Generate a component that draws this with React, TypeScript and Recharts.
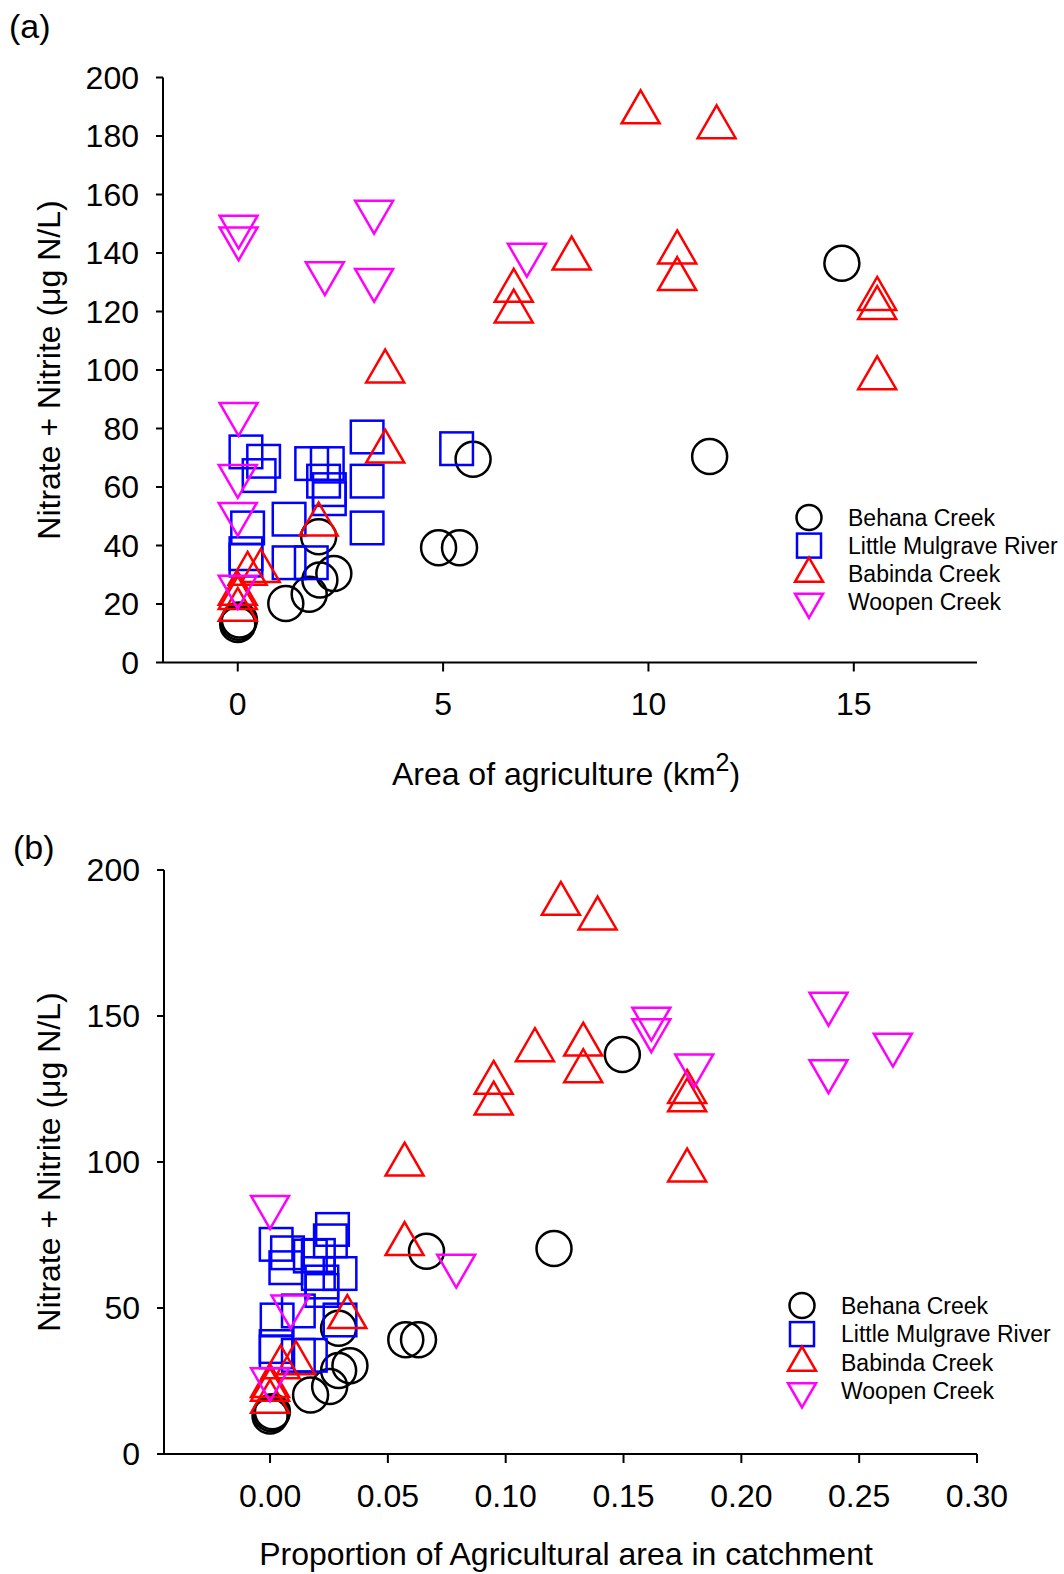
import { ScatterChart, Scatter, XAxis, YAxis, Label, Legend } from 'recharts';

const FONT = 'Arial, "Liberation Sans", sans-serif';

// series: name, colour, marker
const seriesNames = ['Behana Creek', 'Little Mulgrave River', 'Babinda Creek', 'Woopen Creek'];
const seriesColors = ['#000000', '#0000ff', '#ff0000', '#ff00ff'];
const seriesMarkers = ['circle', 'square', 'up', 'down'];

// (a) area of agriculture (km2) vs nitrate + nitrite (ug N/L)
const behanaArea: [number, number][] = [
  [14.71, 136.5], [11.49, 70.4], [5.73, 69.5], [4.89, 39.2], [5.4, 39.2], [1.97, 43.0],
  [2.34, 30.4], [2.0, 28.2], [1.74, 23.3], [1.17, 20.2], [0.0, 13.0], [0.02, 13.8], [0.04, 14.5],
];
const mulgraveArea: [number, number][] = [
  [0.2, 72.0], [0.63, 68.8], [0.52, 63.9], [1.8, 68.0], [2.18, 68.0], [2.09, 62.0],
  [2.23, 59.1], [2.23, 56.0], [3.15, 77.1], [3.15, 62.0], [3.15, 46.0], [1.25, 49.0],
  [0.24, 46.0], [0.2, 37.2], [0.2, 35.0], [1.25, 34.1], [1.79, 34.1], [5.33, 73.1],
];
const babindaArea: [number, number][] = [
  [9.81, 188.1], [11.66, 183.0], [8.13, 138.1], [10.7, 140.2], [10.7, 131.1], [15.57, 124.3],
  [15.57, 121.2], [15.57, 97.2], [6.72, 127.1], [6.72, 120.0], [3.59, 99.5], [3.59, 72.1],
  [1.97, 47.2], [0.56, 31.3], [0.24, 30.3], [0.0, 23.5], [0.0, 22.0], [0.0, 18.0],
];
const woopenArea: [number, number][] = [
  [0.02, 149.0], [0.02, 145.0], [3.32, 154.1], [2.12, 133.1], [3.32, 130.8], [7.04, 139.4],
  [0.02, 85.0], [0.0, 63.8], [0.0, 50.8], [0.0, 25.9],
];

// (b) proportion of agricultural area in catchment vs nitrate + nitrite
const behanaProp: [number, number][] = [
  [0.1495, 136.8], [0.1205, 70.4], [0.0664, 69.4], [0.0576, 39.1], [0.063, 39.1], [0.0291, 43.1],
  [0.0339, 30.2], [0.0291, 28.6], [0.0253, 23.1], [0.0172, 20.2], [0.0, 13.0], [0.0005, 13.8], [0.001, 14.5],
];
const mulgraveProp: [number, number][] = [
  [0.0026, 71.8], [0.0074, 68.9], [0.0067, 63.8], [0.0171, 67.8], [0.0205, 68.0], [0.0205, 61.8],
  [0.022, 58.9], [0.022, 56.0], [0.0265, 76.9], [0.0297, 61.8], [0.0297, 45.9], [0.012, 49.0],
  [0.003, 45.9], [0.0026, 36.8], [0.0026, 35.0], [0.012, 33.8], [0.0171, 33.8], [0.0256, 73.0],
];
const babindaProp: [number, number][] = [
  [0.1234, 188.4], [0.139, 183.4], [0.1124, 138.3], [0.1329, 140.2], [0.1329, 131.1], [0.177, 124.0],
  [0.177, 121.1], [0.177, 97.1], [0.0949, 127.1], [0.0949, 120.0], [0.0571, 99.1], [0.0571, 71.9],
  [0.0328, 46.9], [0.011, 31.1], [0.0045, 29.7], [0.0, 23.3], [0.0, 22.0], [0.0, 17.9],
];
const woopenProp: [number, number][] = [
  [0.1618, 149.1], [0.1618, 145.1], [0.237, 154.2], [0.18, 133.1], [0.237, 131.1], [0.2643, 140.2],
  [0.0, 84.6], [0.079, 64.5], [0.0087, 50.5], [0.0, 25.6],
];

const ticksYA = [0, 20, 40, 60, 80, 100, 120, 140, 160, 180, 200];
const ticksXA = [0, 5, 10, 15];
const ticksYB = [0, 50, 100, 150, 200];
const ticksXB = [0, 0.05, 0.1, 0.15, 0.2, 0.25, 0.3];

const toRows = (pts: [number, number][]) => pts.map(([x, y]) => ({ x, y }));

function Marker({ kind, cx, cy, color, big }: any) {
  const sw = 2.5;
  if (kind === 'circle') {
    const r = big ? 17.5 : 12.5;
    return <circle cx={cx} cy={cy} r={r} fill="none" stroke={color} strokeWidth={sw} />;
  }
  if (kind === 'square') {
    const h = big ? 16.3 : 12;
    return <rect x={cx - h} y={cy - h} width={2 * h} height={2 * h} fill="none" stroke={color} strokeWidth={sw} />;
  }
  const s = big ? 38 : 28;
  const th = (s * Math.sqrt(3)) / 2;
  const pts =
    kind === 'up'
      ? `${cx},${cy - (2 * th) / 3} ${cx + s / 2},${cy + th / 3} ${cx - s / 2},${cy + th / 3}`
      : `${cx},${cy + (2 * th) / 3} ${cx + s / 2},${cy - th / 3} ${cx - s / 2},${cy - th / 3}`;
  return <polygon points={pts} fill="none" stroke={color} strokeWidth={sw} strokeLinejoin="miter" />;
}

function LegendBox({ step }: { step: number }) {
  return (
    <svg width={290} height={130} style={{ overflow: 'visible' }}>
      {seriesNames.map((name, i) => {
        const cy = 22.5 + i * step;
        return (
          <g key={name}>
            <Marker kind={seriesMarkers[i]} cx={29} cy={cy} color={seriesColors[i]} big={false} />
            <text x={68} y={cy + 8} fontSize={23} fontFamily={FONT} fill="#000">
              {name}
            </text>
          </g>
        );
      })}
    </svg>
  );
}

const axisStyle = {
  axisLine: { stroke: '#000', strokeWidth: 2 },
  tickLine: { stroke: '#000', strokeWidth: 2 },
  tick: { fill: '#000', fontSize: 32, fontFamily: FONT },
};

function Panel({
  data, width, height, margin, xDomain, xTicks, yTicks, xFmt, xTitle, yTitleY, tag, tagPos, legendPos, legendStep,
}: any) {
  return (
    <ScatterChart width={width} height={height} margin={margin}>
      <XAxis
        type="number"
        dataKey="x"
        domain={xDomain}
        ticks={xTicks}
        allowDataOverflow
        interval={0}
        height={60}
        tickSize={9}
        tickMargin={21}
        tickFormatter={xFmt}
        {...axisStyle}
      >
        <Label content={() => xTitle} />
      </XAxis>
      <YAxis
        type="number"
        dataKey="y"
        domain={[0, 200]}
        ticks={yTicks}
        allowDataOverflow
        interval={0}
        width={80}
        tickSize={7}
        tickMargin={17}
        {...axisStyle}
      >
        <Label
          content={() => (
            <g>
              <text
                x={60}
                y={yTitleY}
                transform={`rotate(-90, 60, ${yTitleY})`}
                textAnchor="middle"
                fontSize={32}
                fontFamily={FONT}
                fill="#000"
              >
                Nitrate + Nitrite (μg N/L)
              </text>
              <text x={tagPos[0]} y={tagPos[1]} fontSize={34} fontFamily={FONT} fill="#000">
                {tag}
              </text>
            </g>
          )}
        />
      </YAxis>
      <Legend
        layout="horizontal"
        verticalAlign="middle"
        wrapperStyle={{ left: legendPos[0], top: legendPos[1], right: 'auto', bottom: 'auto', width: 290, height: 130 }}
        content={() => <LegendBox step={legendStep} />}
      />
      {data.map((pts: [number, number][], i: number) => (
        <Scatter
          key={seriesNames[i]}
          name={seriesNames[i]}
          data={toRows(pts)}
          isAnimationActive={false}
          shape={(p: any) => <Marker kind={seriesMarkers[i]} cx={p.cx} cy={p.cy} color={seriesColors[i]} big />}
        />
      ))}
    </ScatterChart>
  );
}

export default function App() {
  return (
    <div style={{ position: 'absolute', left: 0, top: 0, width: 1064, height: 1574, background: '#fff' }}>
      <div style={{ position: 'absolute', left: 0, top: 0 }}>
        <Panel
          data={[behanaArea, mulgraveArea, babindaArea, woopenArea]}
          width={1064}
          height={800}
          margin={{ top: 77.5, right: 87, bottom: 77.5, left: 83 }}
          xDomain={[-1.82, 18]}
          xTicks={ticksXA}
          yTicks={ticksYA}
          xFmt={(v: number) => String(v)}
          xTitle={
            <text x={566} y={785} textAnchor="middle" fontSize={32} fontFamily={FONT} fill="#000">
              Area of agriculture (km
              <tspan dy={-14} fontSize={25}>2</tspan>
              <tspan dy={14}>)</tspan>
            </text>
          }
          yTitleY={370}
          tag="(a)"
          tagPos={[9, 38]}
          legendPos={[780, 495]}
          legendStep={28.1}
        />
      </div>
      <div style={{ position: 'absolute', left: 0, top: 800 }}>
        <Panel
          data={[behanaProp, mulgraveProp, babindaProp, woopenProp]}
          width={1064}
          height={774}
          margin={{ top: 70, right: 87, bottom: 60, left: 84 }}
          xDomain={[-0.045, 0.3]}
          xTicks={ticksXB}
          yTicks={ticksYB}
          xFmt={(v: number) => v.toFixed(2)}
          xTitle={
            <text x={566} y={765} textAnchor="middle" fontSize={32} fontFamily={FONT} fill="#000">
              Proportion of Agricultural area in catchment
            </text>
          }
          yTitleY={362}
          tag="(b)"
          tagPos={[13, 59]}
          legendPos={[773, 483]}
          legendStep={28.6}
        />
      </div>
    </div>
  );
}
